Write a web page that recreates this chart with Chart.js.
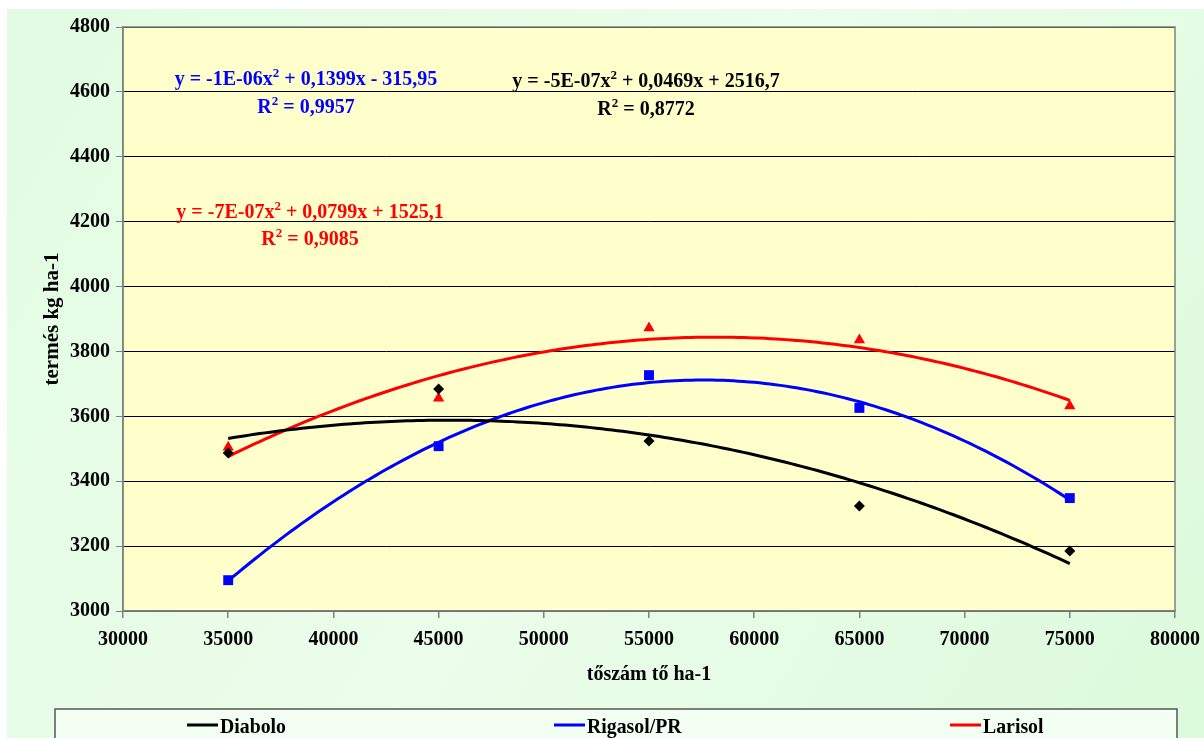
<!DOCTYPE html>
<html>
<head>
<meta charset="utf-8">
<script src="https://cdn.jsdelivr.net/npm/chart.js@4.4.1/dist/chart.umd.min.js"></script>
<style>
    html, body { margin: 0; padding: 0; background: #ffffff; }
    #wrap { width: 1204px; height: 738px; position: relative; }
</style>
</head>
<body>
<div id="wrap"><canvas id="chart"></canvas></div>
<script>
// Adatok (leolvasva az ábráról)
const xValues = [35000, 45000, 55000, 65000, 75000];
const seriesNames = ['Diabolo', 'Rigasol/PR', 'Larisol'];
const diaboloValues = [3487, 3684, 3524, 3324, 3185];
const rigasolValues = [3095, 3508, 3727, 3626, 3348];
const larisolValues = [3505, 3656, 3872, 3835, 3632];
const yTicks = [3000, 3200, 3400, 3600, 3800, 4000, 4200, 4400, 4600, 4800];
const xTicks = [30000, 35000, 40000, 45000, 50000, 55000, 60000, 65000, 70000, 75000, 80000];
const equations = [
    ['y = -5E-07x', ' + 0,0469x + 2516,7', 'R', ' = 0,8772'],
    ['y = -1E-06x', ' + 0,1399x - 315,95', 'R', ' = 0,9957'],
    ['y = -7E-07x', ' + 0,0799x + 1525,1', 'R', ' = 0,9085']
];

const colors = ['#000000', '#0000ff', '#ff0000'];
const pointStyles = ['rectRot', 'rect', 'triangle'];
const pointSizes = [5.5, 7, 6.5];
const FONT = "'Liberation Serif', 'Times New Roman', serif";

// Másodfokú polinom illesztés (legkisebb négyzetek)
function quadFit(xs, ys) {
    const s = 10000;
    let S = [0, 0, 0, 0, 0], T = [0, 0, 0];
    xs.forEach((x0, i) => {
        const x = x0 / s;
        for (let k = 0; k < 5; k++) S[k] += Math.pow(x, k);
        for (let k = 0; k < 3; k++) T[k] += ys[i] * Math.pow(x, k);
    });
    const A = [[S[0], S[1], S[2], T[0]], [S[1], S[2], S[3], T[1]], [S[2], S[3], S[4], T[2]]];
    for (let c = 0; c < 3; c++) {
        for (let r = c + 1; r < 3; r++) {
            const f = A[r][c] / A[c][c];
            for (let k = c; k < 4; k++) A[r][k] -= f * A[c][k];
        }
    }
    const b = [0, 0, 0];
    for (let r = 2; r >= 0; r--) {
        let v = A[r][3];
        for (let k = r + 1; k < 3; k++) v -= A[r][k] * b[k];
        b[r] = v / A[r][r];
    }
    return x0 => { const x = x0 / s; return b[0] + b[1] * x + b[2] * x * x; };
}

function trendPoints(ys) {
    const f = quadFit(xValues, ys);
    const pts = [];
    for (let x = xValues[0]; x <= xValues[xValues.length - 1]; x += 250) pts.push({ x: x, y: f(x) });
    return pts;
}

const allValues = [diaboloValues, rigasolValues, larisolValues];
const datasets = [];
allValues.forEach((vals, i) => {
    datasets.push({
        label: seriesNames[i],
        data: xValues.map((x, j) => ({ x: x, y: vals[j] })),
        showLine: false,
        pointStyle: pointStyles[i],
        pointRadius: pointSizes[i],
        backgroundColor: colors[i],
        borderColor: colors[i],
        borderWidth: 0,
        order: 1
    });
    datasets.push({
        label: seriesNames[i] + ' trend',
        data: trendPoints(vals),
        showLine: true,
        pointRadius: 0,
        borderColor: colors[i],
        borderWidth: 3,
        tension: 0,
        order: 2
    });
});

function drawSup(ctx, before, after, cx, y, color) {
    const main = 'bold 20px ' + FONT;
    const sup = 'bold 13px ' + FONT;
    ctx.font = main;
    const w1 = ctx.measureText(before).width;
    const w3 = ctx.measureText(after).width;
    ctx.font = sup;
    const w2 = ctx.measureText('2').width;
    let x = cx - (w1 + w2 + w3) / 2;
    ctx.fillStyle = color;
    ctx.textAlign = 'left';
    ctx.font = main;
    ctx.fillText(before, x, y);
    x += w1;
    ctx.font = sup;
    ctx.fillText('2', x, y - 8);
    x += w2;
    ctx.font = main;
    ctx.fillText(after, x, y);
}

const decorPlugin = {
    id: 'decor',
    beforeDraw(chart) {
        const ctx = chart.ctx;
        const a = chart.chartArea;
        ctx.save();
        ctx.fillStyle = '#ffffff';
        ctx.fillRect(0, 0, chart.width, chart.height);
        const g = ctx.createLinearGradient(0, 0, chart.width, chart.height);
        g.addColorStop(0, '#e2fbe2');
        g.addColorStop(0.5, '#ebfdeb');
        g.addColorStop(1, '#dcfadc');
        ctx.fillStyle = g;
        ctx.fillRect(7, 9, chart.width - 7, chart.height - 9);
        ctx.fillStyle = '#ffffcc';
        ctx.fillRect(a.left, a.top, a.right - a.left, a.bottom - a.top);
        ctx.restore();
    },
    afterDraw(chart) {
        const ctx = chart.ctx;
        const a = chart.chartArea;
        ctx.save();
        ctx.strokeStyle = '#808080';
        ctx.lineWidth = 1.5;
        ctx.strokeRect(a.left, a.top, a.right - a.left, a.bottom - a.top);

        // Egyenletek
        const eqPos = [[646, 80, 108], [306, 78, 106], [310, 211, 238]];
        ctx.textBaseline = 'alphabetic';
        equations.forEach((eq, i) => {
            const [cx, y1, y2] = eqPos[i];
            drawSup(ctx, eq[0], eq[1], cx, y1 + 7, colors[i]);
            drawSup(ctx, eq[2], eq[3], cx, y2 + 7, colors[i]);
        });

        // Jelmagyarázat
        ctx.fillStyle = '#f2fff2';
        ctx.fillRect(55, 709, 1122, 40);
        ctx.strokeStyle = '#555555';
        ctx.lineWidth = 1.5;
        ctx.strokeRect(55, 709, 1122, 40);
        const legX = [187, 554, 950];
        ctx.textAlign = 'left';
        ctx.textBaseline = 'alphabetic';
        seriesNames.forEach((name, i) => {
            ctx.strokeStyle = colors[i];
            ctx.lineWidth = 3;
            ctx.beginPath();
            ctx.moveTo(legX[i], 725);
            ctx.lineTo(legX[i] + 31, 725);
            ctx.stroke();
            ctx.save();
            ctx.translate(legX[i] + 33, 733);
            ctx.scale(0.9, 1);
            ctx.font = 'bold 22px ' + FONT;
            ctx.fillStyle = '#000000';
            ctx.fillText(name, 0, 0);
            ctx.restore();
        });
        ctx.restore();
    }
};

new Chart(document.getElementById('chart'), {
    type: 'scatter',
    data: { datasets: datasets },
    options: {
        responsive: true,
        maintainAspectRatio: false,
        animation: false,
        layout: { padding: { top: 27, right: 29, bottom: 38, left: 0 } },
        plugins: {
            legend: { display: false },
            tooltip: { enabled: false }
        },
        scales: {
            x: {
                type: 'linear',
                min: 30000,
                max: 80000,
                afterBuildTicks: s => { s.ticks = xTicks.map(v => ({ value: v })); },
                afterFit: s => { s.height = 89; s.paddingLeft = 0; s.paddingRight = 0; },
                ticks: {
                    color: '#000000',
                    font: { family: FONT, size: 20, weight: 'bold' },
                    padding: 10,
                    maxRotation: 0,
                    callback: v => String(v)
                },
                grid: { drawOnChartArea: false, drawTicks: true, tickLength: 7, color: '#808080', lineWidth: 1.5 },
                border: { display: true, color: '#808080', width: 1.5 },
                title: {
                    display: true,
                    text: 'tőszám tő ha-1',
                    color: '#000000',
                    font: { family: FONT, size: 20, weight: 'bold' },
                    padding: { top: 0, bottom: 13 }
                }
            },
            y: {
                type: 'linear',
                min: 3000,
                max: 4800,
                afterBuildTicks: s => { s.ticks = yTicks.map(v => ({ value: v })); },
                afterFit: s => { s.width = 123; s.paddingTop = 0; s.paddingBottom = 0; },
                ticks: {
                    color: '#000000',
                    font: { family: FONT, size: 20, weight: 'bold' },
                    padding: 6,
                    callback: v => String(v)
                },
                grid: {
                    color: '#000000',
                    lineWidth: 1,
                    drawTicks: true,
                    tickLength: 7,
                    tickColor: '#808080'
                },
                border: { display: true, color: '#808080', width: 1.5 },
                title: {
                    display: true,
                    text: 'termés kg ha-1',
                    color: '#000000',
                    font: { family: FONT, size: 21, weight: 'bold' },
                    padding: { top: 40, bottom: 0 }
                }
            }
        }
    },
    plugins: [decorPlugin]
});
</script>
</body>
</html>
